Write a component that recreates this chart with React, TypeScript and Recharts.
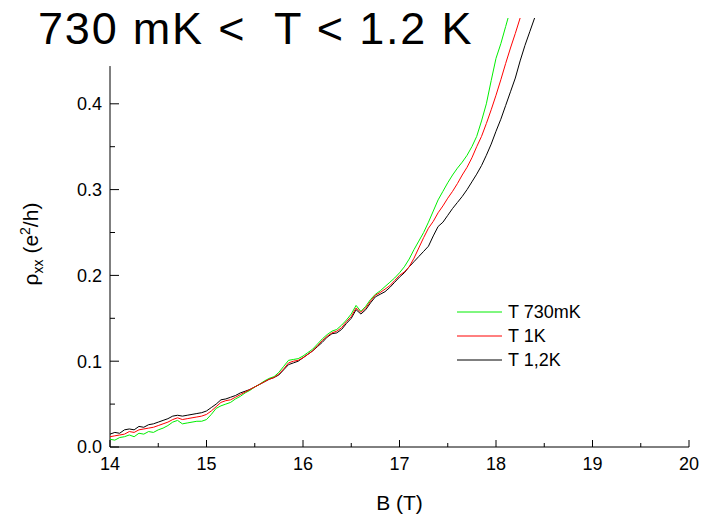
import { LineChart, Line, XAxis, YAxis, ReferenceLine, Legend } from "recharts";

const FONT = '"Liberation Sans", Arial, Helvetica, sans-serif';

// magnetic field (T)
const bField = [
  14.0, 14.05, 14.1, 14.15, 14.2, 14.25, 14.3, 14.35, 14.4, 14.45, 14.5, 14.55, 14.6, 14.65, 14.7, 14.75,
  14.8, 14.85, 14.9, 14.95, 15.0, 15.05, 15.1, 15.15, 15.2, 15.25, 15.3, 15.35, 15.4, 15.45, 15.5, 15.55,
  15.6, 15.65, 15.7, 15.75, 15.8, 15.85, 15.9, 15.95, 16.0, 16.05, 16.1, 16.15, 16.2, 16.25, 16.3, 16.35,
  16.4, 16.45, 16.5, 16.55, 16.6, 16.65, 16.7, 16.75, 16.8, 16.85, 16.9, 16.95, 17.0, 17.05, 17.1, 17.15,
  17.2, 17.25, 17.3, 17.35, 17.4, 17.45, 17.5, 17.55, 17.6, 17.65, 17.7, 17.75, 17.8, 17.85, 17.9, 17.95,
  18.0, 18.05, 18.1, 18.15, 18.2, 18.25, 18.3, 18.35, 18.4,
];

// rho_xx (e^2/h) for each temperature
const rho730mK = [
  0.009, 0.008, 0.011, 0.012, 0.014, 0.012, 0.016, 0.015, 0.018, 0.017, 0.02, 0.022, 0.025, 0.029, 0.031, 0.027,
  0.028, 0.029, 0.03, 0.03, 0.032, 0.038, 0.045, 0.048, 0.05, 0.052, 0.056, 0.059, 0.063, 0.066, 0.07, 0.073,
  0.077, 0.08, 0.082, 0.087, 0.094, 0.101, 0.102, 0.103, 0.106, 0.11, 0.114, 0.12, 0.126, 0.131, 0.135, 0.137,
  0.142, 0.148, 0.155, 0.165, 0.158, 0.164, 0.172, 0.178, 0.182, 0.187, 0.192, 0.197, 0.203, 0.21, 0.219, 0.23,
  0.24, 0.25, 0.262, 0.275, 0.288, 0.298, 0.308, 0.317, 0.325, 0.332, 0.34, 0.35, 0.362, 0.38, 0.4, 0.427,
  0.453, 0.47, 0.49, 0.51, null, null, null, null, null,
];
const rho1K = [
  0.012, 0.013, 0.014, 0.015, 0.018, 0.017, 0.02, 0.021, 0.022, 0.023, 0.025, 0.027, 0.029, 0.032, 0.034, 0.032,
  0.033, 0.034, 0.035, 0.036, 0.038, 0.042, 0.047, 0.052, 0.054, 0.055, 0.058, 0.061, 0.064, 0.067, 0.07, 0.073,
  0.076, 0.079, 0.081, 0.085, 0.091, 0.098, 0.1, 0.101, 0.104, 0.108, 0.112, 0.118, 0.124, 0.129, 0.133, 0.135,
  0.139, 0.146, 0.152, 0.162, 0.157, 0.162, 0.17, 0.177, 0.18, 0.184, 0.188, 0.194, 0.2, 0.204, 0.21, 0.22,
  0.232, 0.244, 0.255, 0.263, 0.273, 0.281, 0.29, 0.298, 0.307, 0.317, 0.326, 0.337, 0.35, 0.362, 0.377, 0.393,
  0.41, 0.428, 0.447, 0.465, 0.482, 0.5, null, null, null,
];
const rho12K = [
  0.015, 0.017, 0.016, 0.02, 0.021, 0.02, 0.024, 0.023, 0.026, 0.027, 0.029, 0.031, 0.033, 0.036, 0.037, 0.036,
  0.037, 0.038, 0.039, 0.04, 0.042, 0.046, 0.05, 0.055, 0.056, 0.058, 0.06, 0.063, 0.065, 0.067, 0.07, 0.073,
  0.076, 0.079, 0.081, 0.084, 0.09, 0.096, 0.098, 0.1, 0.104, 0.108, 0.112, 0.117, 0.122, 0.128, 0.132, 0.133,
  0.137, 0.144, 0.15, 0.16, 0.155, 0.16, 0.168, 0.175, 0.178, 0.181, 0.186, 0.192, 0.198, 0.203, 0.21, 0.216,
  0.222, 0.228, 0.234, 0.246, 0.257, 0.262, 0.27, 0.278, 0.285, 0.292, 0.3, 0.309, 0.318, 0.328, 0.34, 0.353,
  0.368, 0.382, 0.398, 0.414, 0.43, 0.45, 0.468, 0.484, 0.5,
];

const xTicks = [14, 14.5, 15, 15.5, 16, 16.5, 17, 17.5, 18, 18.5, 19, 19.5, 20];
const yTicks = [0, 0.05, 0.1, 0.15, 0.2, 0.25, 0.3, 0.35, 0.4];

const series = [
  { key: "g", name: "T 730mK", color: "#00ee00" },
  { key: "r", name: "T 1K", color: "#ff0000" },
  { key: "k", name: "T 1,2K", color: "#000000" },
];

const data = bField.map((b, i) => ({ b, g: rho730mK[i], r: rho1K[i], k: rho12K[i] }));

const XTick = ({ x, y, payload }: any) => {
  const major = Number.isInteger(payload.value);
  return (
    <g>
      <line x1={x} x2={x} y1={y - 10} y2={y - 10 - (major ? 7 : 4)} stroke="#000" />
      {major && (
        <text x={x} y={y} dy="0.72em" textAnchor="middle" fontSize={18} fontFamily={FONT} fill="#000">
          {payload.value}
        </text>
      )}
    </g>
  );
};

const YTick = ({ x, y, payload }: any) => {
  const major = Math.round(payload.value * 100) % 10 === 0;
  return (
    <g>
      <line x1={x + 8} x2={x + 8 + (major ? 9 : 5)} y1={y} y2={y} stroke="#000" />
      {major && (
        <text x={x} y={y} dy="0.36em" textAnchor="end" fontSize={18} fontFamily={FONT} fill="#000">
          {payload.value.toFixed(1)}
        </text>
      )}
    </g>
  );
};

const LegendBox = () => (
  <div style={{ fontFamily: FONT, fontSize: 18 }}>
    {series.map((s) => (
      <div key={s.key} style={{ display: "flex", alignItems: "center", height: 24 }}>
        <svg width={51} height={24}>
          <line x1={0} x2={45} y1={12} y2={12} stroke={s.color} />
        </svg>
        <span>{s.name}</span>
      </div>
    ))}
  </div>
);

export default function App() {
  return (
    <div style={{ position: "absolute", left: 0, top: 0, width: 702, height: 524, background: "#fff" }}>
      <div
        style={{
          position: "absolute",
          left: 38,
          top: 6,
          fontFamily: FONT,
          fontSize: 45,
          letterSpacing: 1.8,
          lineHeight: 1,
          whiteSpace: "pre",
          zIndex: 2,
        }}
      >
        {"730 mK <  T < 1.2 K"}
      </div>
      <LineChart width={702} height={524} data={data} margin={{ top: 18, right: 13, left: 50, bottom: 12 }}>
        <XAxis
          dataKey="b"
          type="number"
          domain={[14, 20]}
          ticks={xTicks}
          interval={0}
          tickSize={0}
          tickMargin={10}
          tick={<XTick />}
          height={65}
          stroke="#000"
          label={(p: any) => (
            <text
              x={p.viewBox.x + p.viewBox.width / 2}
              y={510}
              textAnchor="middle"
              fontSize={21}
              fontFamily={FONT}
            >
              B (T)
            </text>
          )}
        />
        <YAxis
          type="number"
          domain={[0, 0.5]}
          allowDataOverflow
          ticks={yTicks}
          interval={0}
          axisLine={false}
          tickSize={0}
          tickMargin={8}
          tick={<YTick />}
          width={60}
          label={() => (
            <text transform="translate(38, 244) rotate(-90)" textAnchor="middle" fontSize={21} fontFamily={FONT}>
              ρ<tspan fontSize={14} dy={5}>xx</tspan>
              <tspan dy={-5}> (e</tspan>
              <tspan fontSize={14} dy={-8}>2</tspan>
              <tspan dy={8}>/h)</tspan>
            </text>
          )}
        />
        <ReferenceLine
          segment={[
            { x: 14, y: 0 },
            { x: 14, y: 0.444 },
          ]}
          stroke="#000"
        />
        <Legend
          layout="horizontal"
          verticalAlign="middle"
          align="center"
          content={<LegendBox />}
          wrapperStyle={{ left: 457, top: 300, width: 160 }}
        />
        <Line dataKey="k" name="T 1,2K" stroke="#000000" dot={false} strokeWidth={1} isAnimationActive={false} connectNulls={false} />
        <Line dataKey="g" name="T 730mK" stroke="#00ee00" dot={false} strokeWidth={1} isAnimationActive={false} connectNulls={false} />
        <Line dataKey="r" name="T 1K" stroke="#ff0000" dot={false} strokeWidth={1} isAnimationActive={false} connectNulls={false} />
      </LineChart>
    </div>
  );
}
